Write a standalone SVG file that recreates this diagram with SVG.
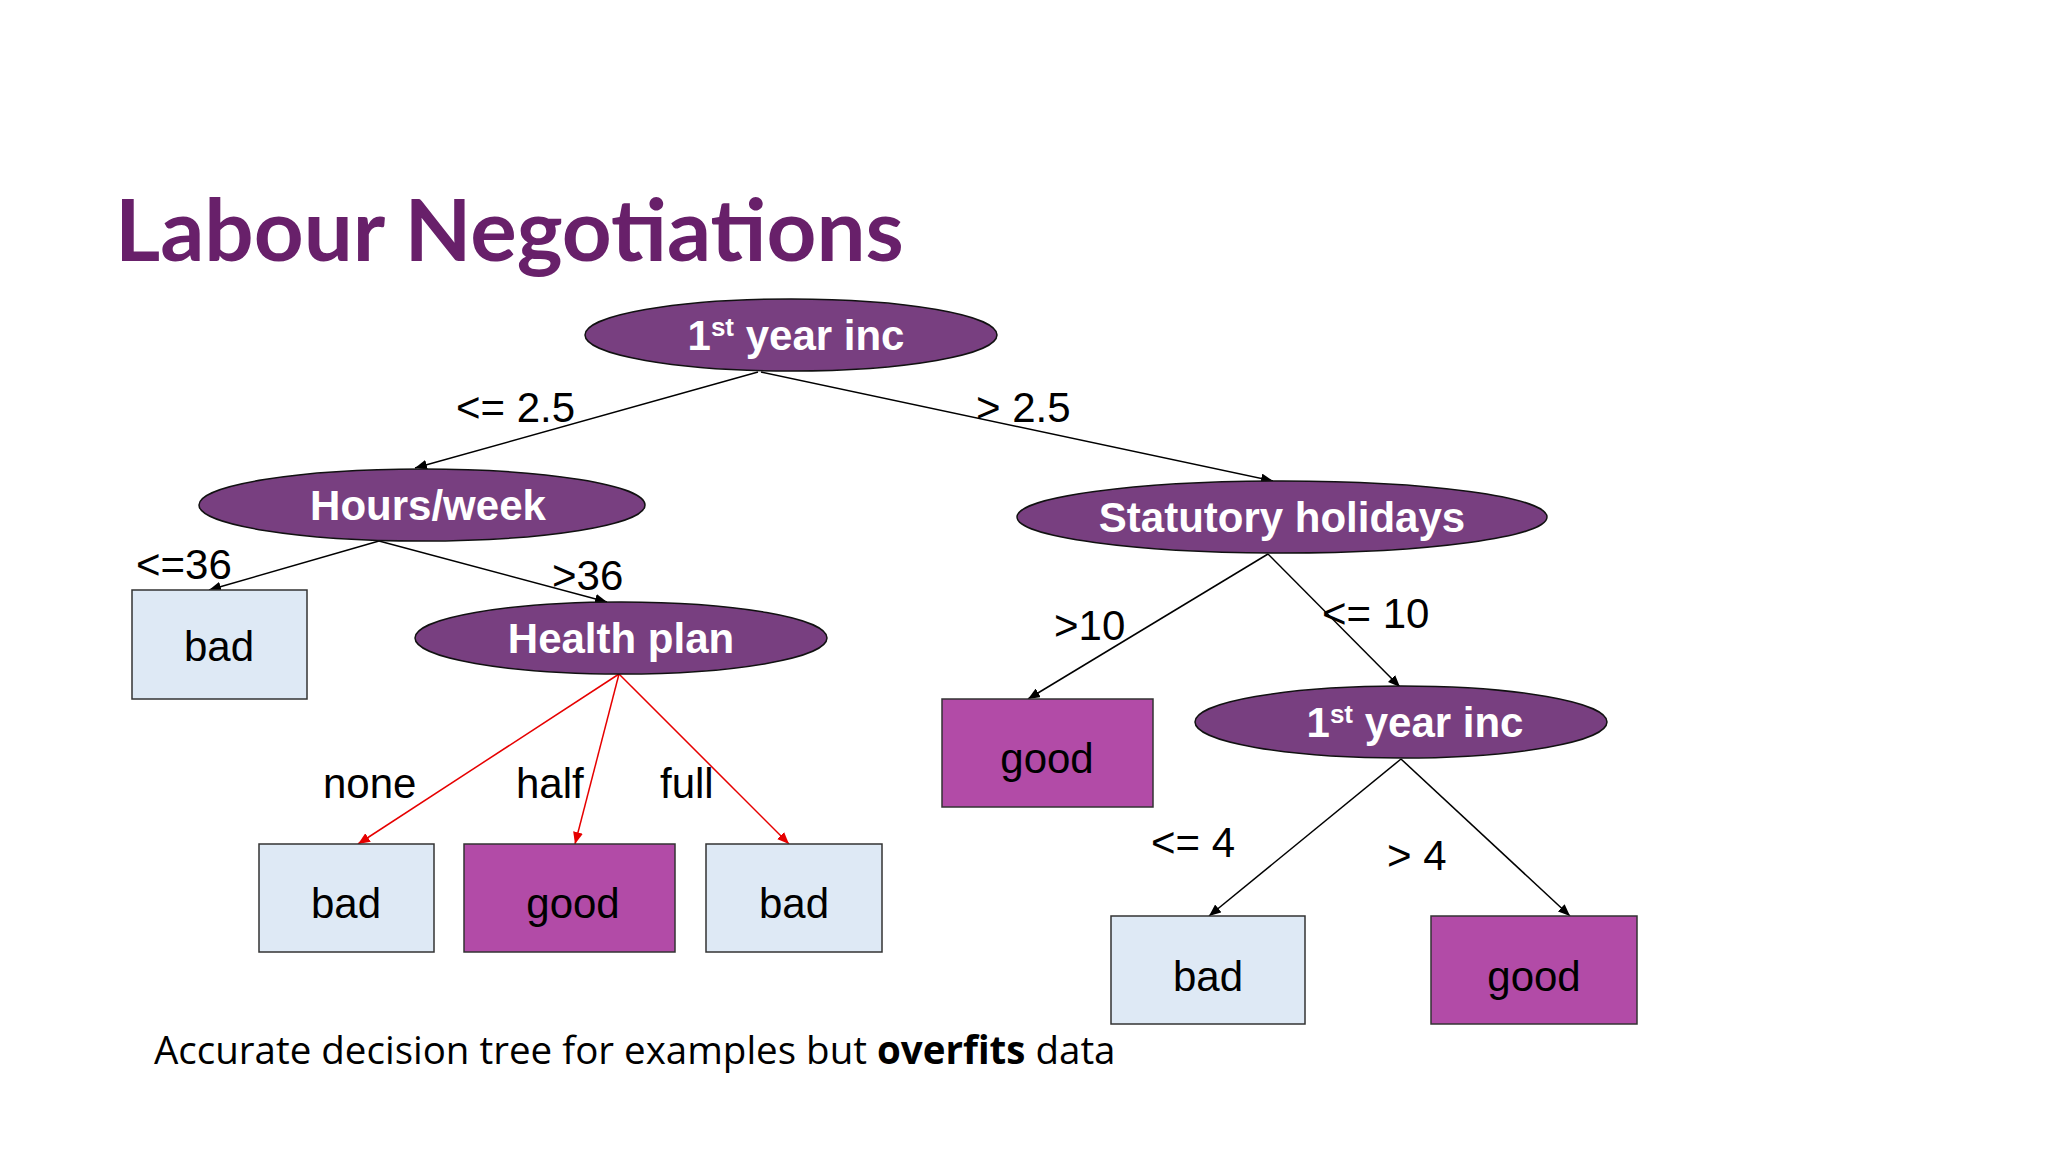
<svg xmlns="http://www.w3.org/2000/svg" width="2048" height="1152" viewBox="0 0 2048 1152">
<style>
.title{font-family:Lato,"Liberation Sans",sans-serif;font-weight:bold;font-size:87px;fill:#68206a}
.dec ellipse{fill:#783f80;stroke:#111;stroke-width:1.5}
.dec text{font-family:"Liberation Sans",Arial,sans-serif;font-weight:bold;font-size:42px;fill:#fff;text-anchor:middle}
.bad rect{fill:#dee9f5;stroke:#333;stroke-width:1.5}
.good rect{fill:#b24ba7;stroke:#333;stroke-width:1.5}
.leaf text{font-family:"Liberation Sans",Arial,sans-serif;font-size:42px;fill:#000;text-anchor:middle}
.lbl{font-family:"Liberation Sans",Arial,sans-serif;font-size:42px;fill:#000}
.edge{stroke:#000;stroke-width:1.5;fill:none;marker-end:url(#ab)}
.edge.red{stroke:#e60000;marker-end:url(#ar)}
.note{font-family:"Open Sans","Noto Sans",sans-serif;font-size:38.5px;fill:#000}
</style>
<defs>
<marker id="ab" viewBox="0 0 12 10" refX="12" refY="5" markerWidth="12" markerHeight="10" markerUnits="userSpaceOnUse" orient="auto"><path d="M0,0 L12,5 L0,10 z" fill="#000"/></marker>
<marker id="ar" viewBox="0 0 12 10" refX="12" refY="5" markerWidth="12" markerHeight="10" markerUnits="userSpaceOnUse" orient="auto"><path d="M0,0 L12,5 L0,10 z" fill="#e60000"/></marker>
</defs>
<rect width="2048" height="1152" fill="#fff"/>
<text class="title" x="115" y="261">Labour Negotiations</text>

<g id="connectors">
<line class="edge" x1="758" y1="372" x2="415" y2="468"/>
<line class="edge" x1="761" y1="372" x2="1273" y2="481"/>
<line class="edge" x1="379" y1="541" x2="209" y2="590"/>
<line class="edge" x1="379" y1="541" x2="607" y2="602"/>
<line class="edge red" x1="619" y1="674" x2="358" y2="844"/>
<line class="edge red" x1="619" y1="674" x2="575" y2="844"/>
<line class="edge red" x1="619" y1="674" x2="789" y2="844"/>
<line class="edge" x1="1268" y1="554" x2="1028" y2="699"/>
<line class="edge" x1="1268" y1="554" x2="1400" y2="687"/>
<line class="edge" x1="1401" y1="759" x2="1209" y2="916"/>
<line class="edge" x1="1401" y1="759" x2="1570" y2="916"/>
</g>

<g id="labels">
<text class="lbl" x="456" y="422">&lt;= 2.5</text>
<text class="lbl" x="976" y="422">&gt; 2.5</text>
<text class="lbl" x="136" y="579">&lt;=36</text>
<text class="lbl" x="552" y="590">&gt;36</text>
<text class="lbl" x="1054" y="640">&gt;10</text>
<text class="lbl" x="1322" y="628">&lt;= 10</text>
<text class="lbl" x="323" y="798">none</text>
<text class="lbl" x="516" y="798">half</text>
<text class="lbl" x="660" y="798">full</text>
<text class="lbl" x="1151" y="857">&lt;= 4</text>
<text class="lbl" x="1387" y="870">&gt; 4</text>
</g>

<g id="root" class="dec">
<ellipse cx="791" cy="335" rx="206" ry="36"/>
<text x="796" y="350">1<tspan font-size="26" dy="-14">st</tspan><tspan dy="14"> year inc</tspan></text>
</g>
<g id="hours" class="dec">
<ellipse cx="422" cy="505" rx="223" ry="36"/>
<text x="428" y="520">Hours/week</text>
</g>
<g id="statutory" class="dec">
<ellipse cx="1282" cy="517" rx="265" ry="36"/>
<text x="1282" y="532">Statutory holidays</text>
</g>
<g id="health" class="dec">
<ellipse cx="621" cy="638" rx="206" ry="36"/>
<text x="621" y="653">Health plan</text>
</g>
<g id="year2" class="dec">
<ellipse cx="1401" cy="722" rx="206" ry="36"/>
<text x="1415" y="737">1<tspan font-size="26" dy="-14">st</tspan><tspan dy="14"> year inc</tspan></text>
</g>

<g id="leaf-bad1" class="leaf bad">
<rect x="132" y="590" width="175" height="109"/>
<text x="219" y="661">bad</text>
</g>
<g id="leaf-good1" class="leaf good">
<rect x="942" y="699" width="211" height="108"/>
<text x="1047" y="773">good</text>
</g>
<g id="leaf-bad2" class="leaf bad">
<rect x="259" y="844" width="175" height="108"/>
<text x="346" y="918">bad</text>
</g>
<g id="leaf-good2" class="leaf good">
<rect x="464" y="844" width="211" height="108"/>
<text x="573" y="918">good</text>
</g>
<g id="leaf-bad3" class="leaf bad">
<rect x="706" y="844" width="176" height="108"/>
<text x="794" y="918">bad</text>
</g>
<g id="leaf-bad4" class="leaf bad">
<rect x="1111" y="916" width="194" height="108"/>
<text x="1208" y="991">bad</text>
</g>
<g id="leaf-good3" class="leaf good">
<rect x="1431" y="916" width="206" height="108"/>
<text x="1534" y="991">good</text>
</g>

<text class="note" x="154" y="1064">Accurate decision tree for examples but <tspan font-weight="bold">overfits</tspan> data</text>
</svg>
